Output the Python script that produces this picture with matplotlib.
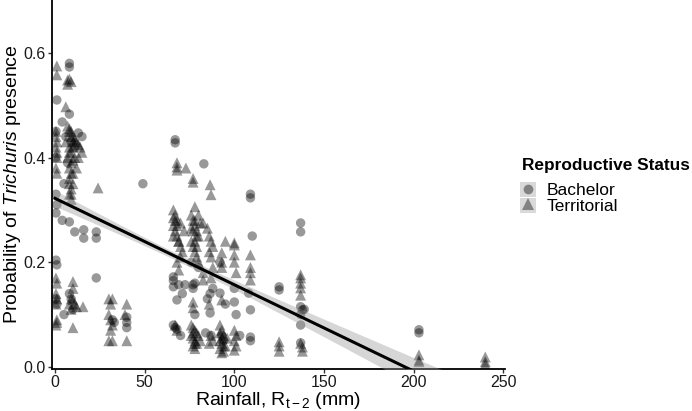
import matplotlib
matplotlib.use("Agg")
import numpy as np
import matplotlib.pyplot as plt
from matplotlib.lines import Line2D
from matplotlib.patches import Patch

plt.rcParams['font.family'] = ['Liberation Sans', 'DejaVu Sans']
plt.rcParams['mathtext.fontset'] = 'custom'
plt.rcParams['mathtext.rm'] = 'Liberation Sans'
plt.rcParams['mathtext.it'] = 'Liberation Sans:italic'

# Bachelor (circles): rainfall, probability
bach_x = [1, 0.5, 1, 0.5, 0.5, 1, 0.5, 1, 0.5, 0.5,
          8, 8, 8, 4, 6, 9, 13, 15, 11, 7, 5, 4, 8, 11, 16, 16, 8, 9, 10, 5,
          23, 23, 23, 32, 33, 40, 40, 40, 49,
          67, 67, 66, 66, 66, 68, 69, 72.5, 66, 67, 68, 70, 71,
          77, 77, 78, 80, 76, 78,
          83, 86.5, 86.5, 84, 87, 85, 88,
          92, 92, 95, 93, 94,
          100, 101, 103, 100,
          109, 109, 108, 109, 109, 109, 110,
          125, 125,
          137, 137, 137, 138, 137, 137, 137, 139,
          203, 203]
bach_y = [0.51, 0.33, 0.31, 0.294, 0.204, 0.195, 0.13, 0.12, 0.45, 0.40,
          0.58, 0.573, 0.483, 0.468, 0.44, 0.43, 0.447, 0.44, 0.42, 0.39, 0.35, 0.28, 0.277, 0.258, 0.262, 0.246, 0.14, 0.13, 0.11, 0.10,
          0.258, 0.246, 0.17, 0.09, 0.085, 0.095, 0.085, 0.075, 0.35,
          0.434, 0.428, 0.172, 0.165, 0.153, 0.128, 0.157, 0.157, 0.08, 0.075, 0.072, 0.06, 0.14,
          0.157, 0.15, 0.16, 0.19, 0.20, 0.10,
          0.388, 0.14, 0.103, 0.065, 0.06, 0.13, 0.15,
          0.20, 0.141, 0.12, 0.06, 0.05,
          0.124, 0.10, 0.06, 0.15,
          0.33, 0.323, 0.141, 0.109, 0.057, 0.05, 0.25,
          0.153, 0.147,
          0.275, 0.258, 0.115, 0.109, 0.10, 0.08, 0.046, 0.11,
          0.071, 0.065]

# Territorial (triangles)
terr_x = [1, 1, 0.5, 1, 0.5, 1, 0.5, 1, 0.5, 1, 0.5, 1, 0.5, 1, 0.5, 1, 0.5, 1,
          7, 9, 7, 8, 6, 7, 8, 9, 10, 11, 12, 13, 8, 9, 7, 10, 8, 9, 8, 10, 9, 8, 9, 14, 15, 6, 10, 11, 12, 13,
          8, 9, 10, 8, 9, 10, 8, 9,
          10, 10, 9, 10, 11, 12, 15.6, 10, 8, 9,
          24,
          30, 32, 31, 30, 32, 31, 30, 32, 31,
          40, 40, 39,
          68, 68, 68, 73, 66, 67, 68, 66, 67, 68, 69, 70, 71, 66, 70, 72, 69, 70, 68, 67, 68,
          67, 68, 66, 69,
          77, 77, 78, 76, 77, 78, 79, 80, 76, 77, 78, 79, 80, 81, 80, 82.6, 85, 82.6, 82.6, 77, 77,
          78, 77, 79, 78, 76, 79,
          76, 77, 78, 79, 76, 77, 78, 79, 77, 78, 80, 81, 77, 78,
          86.5, 87, 86, 87, 88, 86, 87, 88, 87, 86, 87, 88, 86,
          93, 93, 93, 95, 93, 92, 93, 94, 92, 93, 95, 92, 94, 93, 96, 92, 93, 94,
          100, 100, 100, 100, 101, 100, 101, 100, 101, 100,
          109, 109, 109, 109,
          125, 125, 125,
          137, 137, 137, 137, 137, 138, 138, 137,
          203, 203, 203,
          240, 240, 240]
terr_y = [0.575, 0.558, 0.44, 0.43, 0.42, 0.40, 0.38, 0.37, 0.45, 0.41, 0.17, 0.16, 0.14, 0.13, 0.12, 0.09, 0.08, 0.085,
          0.548, 0.545, 0.54, 0.55, 0.497, 0.46, 0.455, 0.45, 0.44, 0.435, 0.43, 0.425, 0.42, 0.41, 0.40, 0.395, 0.38, 0.37, 0.36, 0.35, 0.34, 0.33, 0.32, 0.42, 0.41, 0.43, 0.42, 0.40, 0.38, 0.40,
          0.45, 0.44, 0.43, 0.41, 0.39, 0.37, 0.35, 0.33,
          0.163, 0.15, 0.13, 0.128, 0.12, 0.115, 0.115, 0.075, 0.12, 0.11,
          0.342,
          0.13, 0.13, 0.12, 0.10, 0.08, 0.07, 0.05, 0.05, 0.09,
          0.12, 0.05, 0.10,
          0.39, 0.382, 0.376, 0.38, 0.30, 0.29, 0.28, 0.27, 0.26, 0.25, 0.24, 0.23, 0.22, 0.285, 0.275, 0.26, 0.185, 0.21, 0.20, 0.08, 0.07,
          0.28, 0.27, 0.25, 0.24,
          0.36, 0.353, 0.306, 0.29, 0.28, 0.27, 0.26, 0.25, 0.24, 0.23, 0.22, 0.21, 0.20, 0.275, 0.29, 0.275, 0.265, 0.18, 0.166, 0.124, 0.113,
          0.28, 0.26, 0.25, 0.24, 0.265, 0.23,
          0.08, 0.075, 0.07, 0.065, 0.06, 0.055, 0.05, 0.045, 0.04, 0.035, 0.06, 0.05, 0.065, 0.045,
          0.348, 0.329, 0.25, 0.24, 0.23, 0.22, 0.21, 0.19, 0.17, 0.12, 0.06, 0.05, 0.045,
          0.218, 0.20, 0.19, 0.24, 0.128, 0.08, 0.07, 0.06, 0.05, 0.045, 0.04, 0.035, 0.03, 0.027, 0.055, 0.065, 0.055, 0.04,
          0.237, 0.233, 0.214, 0.20, 0.18, 0.07, 0.06, 0.05, 0.04, 0.032,
          0.214, 0.19, 0.18, 0.166,
          0.048, 0.04, 0.03,
          0.176, 0.17, 0.16, 0.151, 0.137, 0.038, 0.03, 0.045,
          0.023, 0.013, 0.01,
          0.019, 0.01, 0.005]

# linear fit
fit_intercept = 0.322
fit_slope = -0.00165
se_min = 0.007
se_slope = 0.000192
x_mean = 70

xs = np.linspace(0, 240, 200)
yfit = fit_intercept + fit_slope * xs
hw = np.sqrt(se_min**2 + (se_slope * (xs - x_mean))**2)

fig = plt.figure(figsize=(6.92, 4.11), dpi=100)
ax = fig.add_axes([52/692, 42/411, 453/692, 369/411])

ax.scatter(bach_x, bach_y, marker='o', s=46, color='black', alpha=0.4, edgecolors='none', zorder=2)
ax.scatter(terr_x, terr_y, marker='^', s=62, color='black', alpha=0.4, edgecolors='none', zorder=2)
ax.fill_between(xs, yfit - hw, yfit + hw, color='#999999', alpha=0.4, linewidth=0, zorder=3)
ax.plot(xs, yfit, color='black', linewidth=2.2, zorder=4)

ax.set_xlim(-1.7, 251)
ax.set_ylim(-0.004, 0.701)
ax.set_xticks([0, 50, 100, 150, 200, 250])
ax.set_yticks([0.0, 0.2, 0.4, 0.6])
ax.set_yticklabels(['0.0', '0.2', '0.4', '0.6'])
ax.spines['top'].set_visible(False)
ax.spines['right'].set_visible(False)
ax.spines['left'].set_linewidth(1.3)
ax.spines['bottom'].set_linewidth(1.3)
ax.tick_params(labelsize=11.5, length=3, width=1, pad=1.5, colors='#333333', labelcolor='#1a1a1a')

ax.set_xlabel('Rainfall, R$_{\\mathrm{t\u22122}}$ (mm)', fontsize=14)
ax.xaxis.set_label_coords(0.5, -0.058)
ax.set_ylabel('Probability of $\\mathit{Trichuris}$ presence', fontsize=14)
ax.yaxis.set_label_coords(-0.063, 0.5)

# legend: title drawn separately so the gap to the keys can be set
fig.text(522/692, 1 - 165/411, 'Reproductive Status', fontsize=12.4, fontweight='bold', va='center', ha='left')
handles = [(Patch(facecolor='#d9d9d9', edgecolor='none'),
            Line2D([], [], marker='o', linestyle='none', color='black', alpha=0.4, markersize=7, markeredgewidth=0)),
           (Patch(facecolor='#d9d9d9', edgecolor='none'),
            Line2D([], [], marker='^', linestyle='none', color='black', alpha=0.4, markersize=8, markeredgewidth=0))]
leg = fig.legend(handles, ['Bachelor', 'Territorial'],
                 loc='upper left', bbox_to_anchor=(520/692, 1 - 182/411), frameon=False,
                 fontsize=12.5, handlelength=0.95, handleheight=0.95, handletextpad=0.6,
                 labelspacing=-0.05, borderpad=0, borderaxespad=0)

fig.savefig('out.png', dpi=100)
